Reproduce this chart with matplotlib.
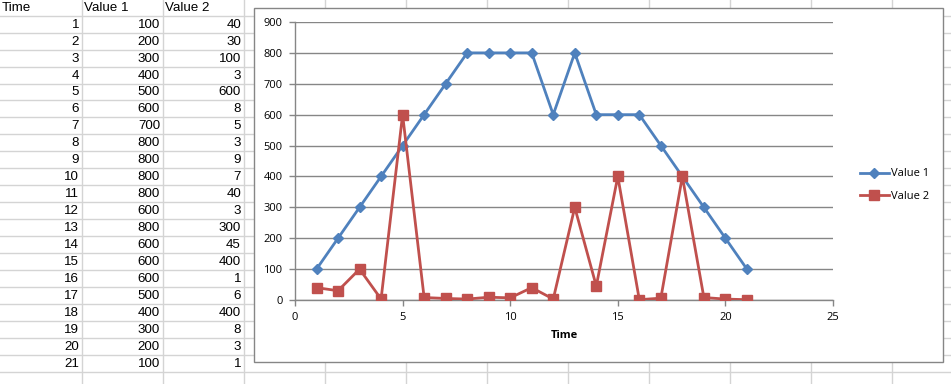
import matplotlib.pyplot as plt
from matplotlib.patches import Rectangle

# spreadsheet data
headers = ["Time", "Value 1", "Value 2"]
time = [1, 2, 3, 4, 5, 6, 7, 8, 9, 10, 11, 12, 13, 14, 15, 16, 17, 18, 19, 20, 21]
value_1 = [100, 200, 300, 400, 500, 600, 700, 800, 800, 800, 800,
           600, 800, 600, 600, 600, 500, 400, 300, 200, 100]
value_2 = [40, 30, 100, 3, 600, 8, 5, 3, 9, 7, 40,
           3, 300, 45, 400, 1, 6, 400, 8, 3, 1]

x_ticks = [0, 5, 10, 15, 20, 25]
y_ticks = [0, 100, 200, 300, 400, 500, 600, 700, 800, 900]

W, H = 951, 384
BLUE = "#4F81BD"
RED = "#C0504D"
GRID = "#D4D4D4"
AXIS = "#868686"

fig = plt.figure(figsize=(W / 100, H / 100), dpi=100)

# background sheet in pixel coordinates
bg = fig.add_axes([0, 0, 1, 1])
bg.set_xlim(0, W)
bg.set_ylim(H, 0)
bg.axis("off")

col_edges = [82, 163, 244] + [244 + 81 * k for k in range(1, 10)]
row_h = 16.95
header_h = 15.7
for x in col_edges:
    bg.plot([x, x], [0, H], color=GRID, lw=1, zorder=1)
for k in range(24):
    y = header_h + row_h * k
    bg.plot([0, W], [y, y], color=GRID, lw=1, zorder=1)

sheet_font = dict(family="Liberation Sans", fontsize=9.6, color="black")
for i, name in enumerate(headers):
    left = 0 if i == 0 else col_edges[i - 1]
    bg.text(left + 2, header_h / 2, name, ha="left", va="center", **sheet_font)

for r, row in enumerate(zip(time, value_1, value_2)):
    yc = header_h + row_h * (r + 0.5) + 0.5
    for c, val in enumerate(row):
        bg.text(col_edges[c] - 3, yc, str(val), ha="right", va="center",
                **sheet_font)

# chart box
bg.add_patch(Rectangle((254, 7.5), 943 - 254, 362 - 7.5, facecolor="white",
                       edgecolor=AXIS, lw=1, zorder=3))

# plot area
x0, x1, y0, y1 = 295, 833, 22, 300
ax = fig.add_axes([x0 / W, 1 - y1 / H, (x1 - x0) / W, (y1 - y0) / H])
ax.set_zorder(5)
ax.patch.set_alpha(0)

ax.plot(time, value_1, color=BLUE, lw=2.0, marker="D", markersize=5,
        label="Value 1", zorder=3)
ax.plot(time, value_2, color=RED, lw=2.0, marker="s", markersize=6.5,
        label="Value 2", zorder=4)

ax.set_xlim(0, 25)
ax.set_ylim(0, 900)
ax.set_xticks(x_ticks)
ax.set_yticks(y_ticks)
ax.yaxis.grid(True, color=AXIS, lw=1)
ax.set_axisbelow(True)

for side in ["top", "right"]:
    ax.spines[side].set_visible(False)
for side in ["left", "bottom"]:
    ax.spines[side].set_color(AXIS)
    ax.spines[side].set_linewidth(1)

chart_font = "Open Sans"
ax.tick_params(axis="both", colors=AXIS, length=4, width=1, direction="out",
               labelcolor="black", labelsize=8)
for lab in ax.get_xticklabels() + ax.get_yticklabels():
    lab.set_family(chart_font)
ax.tick_params(axis="x", pad=5)
ax.tick_params(axis="y", pad=5)

ax.set_xlabel("Time", family=chart_font, fontsize=8, fontweight="bold",
              labelpad=5)

ax.legend(loc="center left", bbox_to_anchor=(850 / W, 1 - 185 / H),
          bbox_transform=fig.transFigure, frameon=False,
          prop=dict(family=chart_font, size=8), handlelength=2.6,
          handletextpad=0.15, labelspacing=1.0)

plt.savefig("out.png", dpi=100)
